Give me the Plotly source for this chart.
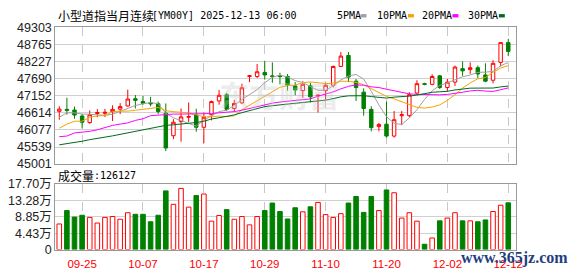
import plotly.graph_objects as go

W, H = 578, 276

dates = [
    "2025-09-22", "2025-09-23", "2025-09-24", "2025-09-25", "2025-09-26", "2025-09-29", "2025-09-30",
    "2025-10-01", "2025-10-02", "2025-10-03", "2025-10-06", "2025-10-07", "2025-10-08", "2025-10-09",
    "2025-10-10", "2025-10-13", "2025-10-14", "2025-10-15", "2025-10-16", "2025-10-17", "2025-10-20",
    "2025-10-21", "2025-10-22", "2025-10-23", "2025-10-24", "2025-10-27", "2025-10-28", "2025-10-29",
    "2025-10-30", "2025-10-31", "2025-11-03", "2025-11-04", "2025-11-05", "2025-11-06", "2025-11-07",
    "2025-11-10", "2025-11-11", "2025-11-12", "2025-11-13", "2025-11-14", "2025-11-17", "2025-11-18",
    "2025-11-19", "2025-11-20", "2025-11-21", "2025-11-24", "2025-11-25", "2025-11-26", "2025-11-27",
    "2025-11-28", "2025-12-01", "2025-12-02", "2025-12-03", "2025-12-04", "2025-12-05", "2025-12-08",
    "2025-12-09", "2025-12-10", "2025-12-11", "2025-12-12",
]

opens = [46663, 46723, 46703, 46515, 46308, 46594, 46600, 46653, 46732, 46831,
         47058, 46969, 46930, 46900, 46604, 45894, 46338, 46476, 46545, 46160,
         46555, 46989, 47186, 46752, 46930, 47759, 47759, 47887, 47778, 47788,
         47759, 47463, 47315, 47463, 47147, 47315, 47482, 48074, 48420, 47611,
         47265, 46723, 46180, 46259, 45884, 46525, 46525, 47236, 47532, 47512,
         47778, 47413, 47581, 48005, 47976, 48035, 47808, 47640, 48203, 48824]
highs = [46821, 47088, 46811, 46575, 46693, 46732, 46740, 46851, 46920, 47344,
         47176, 47147, 47117, 46969, 46910, 46417, 46752, 46940, 46742, 46624,
         46999, 47334, 47245, 47019, 47532, 47808, 48153, 48252, 48203, 47877,
         47838, 47581, 47611, 47561, 47186, 47561, 48104, 48528, 48528, 47680,
         47384, 46821, 46298, 46969, 46673, 46673, 47265, 47640, 47561, 47828,
         47808, 47680, 48104, 48232, 48203, 48104, 48173, 48272, 48844, 48943]
lows = [46397, 46555, 46427, 46121, 46269, 46476, 46480, 46358, 46575, 46811,
        46752, 46870, 46821, 46575, 45410, 45785, 45706, 46328, 46022, 45657,
        46377, 46870, 46673, 46653, 46890, 47581, 47709, 47660, 47561, 47512,
        47315, 47167, 47088, 46940, 46624, 47048, 47413, 48055, 47581, 46989,
        46525, 46032, 46032, 45835, 45835, 46229, 46476, 47186, 47482, 47482,
        47364, 47285, 47463, 47778, 47838, 47709, 47581, 47542, 48074, 48400]
closes = [46732, 46693, 46545, 46318, 46555, 46624, 46630, 46723, 46811, 47048,
          47009, 46910, 46900, 46653, 45509, 46318, 46486, 46496, 46160, 46476,
          46969, 47167, 46723, 46910, 47403, 47778, 47907, 47808, 47759, 47759,
          47482, 47334, 47512, 47117, 47167, 47482, 48074, 48400, 47739, 47413,
          46752, 46150, 46249, 45884, 46397, 46555, 47186, 47532, 47512, 47759,
          47413, 47581, 48055, 47936, 48035, 47838, 47611, 48173, 48824, 48548]

volumes = [69100, 105400, 87700, 92700, 86800, 71600, 86800, 89300, 81800, 99500,
           95200, 95200, 75000, 92700, 158500, 122200, 165200, 114600, 145800, 150000,
           76700, 91900, 107900, 81800, 89300, 66600, 89300, 105400, 125600, 102800,
           82600, 112900, 102000, 115500, 127300, 94400, 86800, 96900, 125600, 143300,
           100300, 143300, 105400, 161000, 153400, 85100, 99500, 76700, 14300, 31200,
           77500, 85100, 99500, 77500, 77500, 75000, 80000, 102800, 119700, 126127]

ma5 = [46476, 46614, 46614, 46575, 46569, 46547, 46534, 46570, 46669, 46767,
       46844, 46900, 46936, 46904, 46596, 46458, 46373, 46292, 46194, 46387,
       46517, 46654, 46699, 46849, 47034, 47196, 47344, 47561, 47731, 47802,
       47743, 47628, 47569, 47441, 47322, 47322, 47470, 47648, 47772, 47822,
       47676, 47291, 46861, 46490, 46286, 46247, 46454, 46711, 47036, 47309,
       47480, 47559, 47664, 47749, 47804, 47889, 47895, 47919, 48096, 48199]
ma10 = [46130, 46260, 46350, 46350, 46470, 46520, 46525, 46650, 46670, 46668,
        46696, 46717, 46753, 46786, 46682, 46651, 46637, 46614, 46549, 46492,
        46488, 46513, 46496, 46521, 46711, 46857, 46999, 47130, 47290, 47418,
        47470, 47486, 47565, 47586, 47562, 47533, 47549, 47609, 47607, 47572,
        47499, 47381, 47254, 47131, 47054, 46961, 46873, 46786, 46763, 46798,
        46864, 47007, 47187, 47393, 47556, 47685, 47727, 47891, 48023, 48101]
ma20 = [45864, 45884, 45982, 46002, 46032, 46081, 46160, 46219, 46259, 46298,
        46377, 46427, 46525, 46545, 46555, 46575, 46575, 46575, 46575, 46580,
        46592, 46615, 46624, 46654, 46696, 46754, 46818, 46872, 46919, 46955,
        46979, 47000, 47030, 47054, 47137, 47195, 47274, 47369, 47448, 47495,
        47484, 47433, 47410, 47358, 47308, 47247, 47211, 47197, 47185, 47185,
        47181, 47194, 47221, 47262, 47305, 47323, 47300, 47289, 47342, 47399]
ma30 = [45608, 45640, 45690, 45720, 45770, 45800, 45850, 45890, 45940, 45990,
        46040, 46090, 46140, 46180, 46220, 46240, 46260, 46280, 46310, 46350,
        46420, 46460, 46500, 46550, 46620, 46690, 46760, 46810, 46840, 46860,
        46885, 46906, 46939, 46965, 46986, 47014, 47062, 47118, 47149, 47161,
        47153, 47127, 47105, 47079, 47109, 47117, 47140, 47174, 47220, 47262,
        47277, 47291, 47335, 47369, 47391, 47393, 47383, 47395, 47431, 47457]

tick_dates = ["2025-09-25", "2025-10-07", "2025-10-17", "2025-10-29",
              "2025-11-10", "2025-11-20", "2025-12-02", "2025-12-12"]
tick_labels = ["09-25", "10-07", "10-17", "10-29", "11-10", "11-20", "12-02", "12-12"]
price_ticks = [45001, 45539, 46077, 46614, 47152, 47690, 48227, 48765, 49303]
vol_ticks = [0, 44250, 88500, 132750, 177000]
vol_tick_labels = ["0", "4.43万", "8.85万", "13.28万", "17.70万"]

ma_names = ["5PMA", "10PMA", "20PMA", "30PMA"]
ma_colors = ["#a0a0a0", "#f5a300", "#ff00ff", "#006b1e"]

RED = "#ff0000"
GREEN = "#008000"


def px_x(p):
    return p / W


def px_y(p):
    return 1 - p / H


fig = go.Figure()

fig.add_trace(go.Candlestick(
    x=dates, open=opens, high=highs, low=lows, close=closes,
    increasing=dict(line=dict(color=RED, width=1), fillcolor="white"),
    decreasing=dict(line=dict(color=GREEN, width=1), fillcolor=GREEN),
    whiskerwidth=0, xaxis="x", yaxis="y", hoverinfo="skip", showlegend=False,
))

for vals, col in zip([ma5, ma10, ma20, ma30], ma_colors):
    fig.add_trace(go.Scatter(
        x=dates, y=vals, mode="lines", line=dict(color=col, width=1),
        xaxis="x", yaxis="y", hoverinfo="skip", showlegend=False,
    ))

up = [c >= o for o, c in zip(opens, closes)]
fig.add_trace(go.Bar(
    x=dates, y=volumes, width=0.6,
    marker=dict(color=["white" if u else GREEN for u in up],
                line=dict(color=[RED if u else GREEN for u in up], width=1)),
    xaxis="x2", yaxis="y2", hoverinfo="skip", showlegend=False,
))

xdom = [px_x(56), px_x(522.5)]
xrange = [-0.52, 60.04]
tick_font = dict(family="Liberation Sans, Arial, Noto Sans CJK SC", size=12.5, color="#222")

common_x = dict(
    domain=xdom, type="category", categoryorder="array", categoryarray=dates,
    range=xrange, tickvals=tick_dates, ticktext=tick_labels,
    showgrid=True, gridcolor="#c8c8c8", griddash="dash", gridwidth=1,
    showline=True, mirror=True, linecolor="#999999", linewidth=1,
    zeroline=False, ticks="", fixedrange=True,
)

fig.update_layout(
    width=W, height=H,
    margin=dict(l=0, r=0, t=0, b=0),
    paper_bgcolor="white", plot_bgcolor="white",
    boxgap=0.35, bargap=0.35,
    xaxis=dict(**common_x, anchor="y", showticklabels=False,
               rangeslider=dict(visible=False)),
    yaxis=dict(domain=[px_y(165.5), px_y(21.5)], range=[45001, 49303],
               tickvals=price_ticks, ticktext=[str(v) for v in price_ticks],
               showgrid=True, gridcolor="#d0d0d0", gridwidth=1,
               showline=True, mirror=True, linecolor="#999999", linewidth=1,
               zeroline=False, ticks="", tickfont=tick_font, fixedrange=True),
    xaxis2=dict(**common_x, anchor="y2", showticklabels=True, ticklabelstandoff=4,
                tickfont=dict(family="Liberation Sans, Arial", size=11.5, color=RED)),
    yaxis2=dict(domain=[px_y(255.5), px_y(186.5)], range=[0, 177000],
                tickvals=vol_ticks, ticktext=vol_tick_labels,
                showgrid=True, gridcolor="#d0d0d0", gridwidth=1,
                showline=True, mirror=True, linecolor="#999999", linewidth=1,
                zeroline=False, ticks="", tickfont=tick_font, fixedrange=True),
)

cjk = "Noto Sans CJK SC"
mono = "DejaVu Sans Mono"
ann = []


def text(x, y, s, family, size, color="#000", xanchor="left", bold=False):
    ann.append(dict(
        x=px_x(x), y=px_y(y), xref="paper", yref="paper", text=("<b>%s</b>" % s) if bold else s,
        showarrow=False, xanchor=xanchor, yanchor="middle",
        font=dict(family=family, size=size, color=color),
    ))


# faint watermark
text(282, 92, "东方财富", cjk, 30, color="rgba(200,200,200,0.35)", xanchor="center", bold=True)

# title
text(56.5, 8.5, "小型道指当月连续", cjk, 12)
text(151.5, 8.5, "[YM00Y] 2025-12-13 06:00", mono, 10)

# legend
leg_x = [339, 380, 425, 472]
sq_x = [365, 413, 458, 505]
shapes = []
for name, col, lx, sx in zip(ma_names, ma_colors, leg_x, sq_x):
    text(lx, 8.5, name, mono, 10)
    shapes.append(dict(type="rect", xref="paper", yref="paper",
                       x0=px_x(sx), x1=px_x(sx + 6), y0=px_y(11), y1=px_y(7.5),
                       fillcolor=col, line=dict(width=0)))

# volume label
text(57, 177, "成交量", cjk, 12)
text(93, 177, ":%d" % volumes[-1], mono, 10)

# site watermark
text(521, 264, "www.365jz.com", "Liberation Serif", 16, color="#1f3f7f", xanchor="center", bold=True)

fig.update_layout(annotations=ann, shapes=shapes)

fig.write_html("out.html")
